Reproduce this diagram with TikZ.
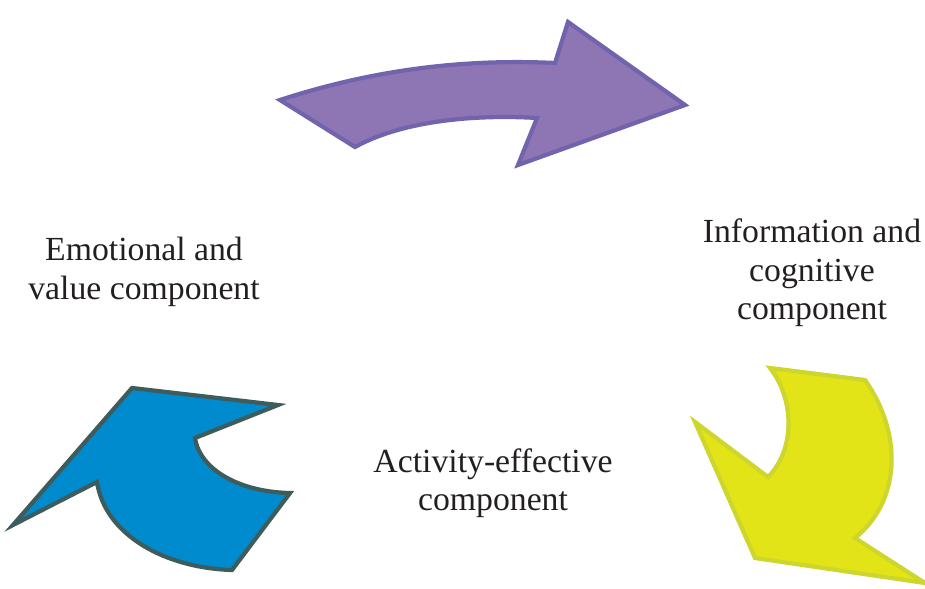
\documentclass[tikz,border=0pt]{standalone}
\usepackage{fontspec}
\setmainfont{Liberation Serif}
\definecolor{arrowpurple}{RGB}{142,118,180}
\definecolor{purpleedge}{RGB}{113,99,172}
\definecolor{arrowyellow}{RGB}{227,228,23}
\definecolor{yellowedge}{RGB}{205,214,45}
\definecolor{arrowblue}{RGB}{0,139,207}
\definecolor{blueedge}{RGB}{62,92,92}
\definecolor{inktext}{RGB}{35,31,32}

\begin{document}
\begin{tikzpicture}[x=0.02cm, y=-0.02cm,
	bigarrow/.style={line width=2.4pt, line join=miter},
	comptext/.style={align=center, text=inktext, inner sep=0pt,
		font=\fontsize{19.2}{21.8}\selectfont}]
			%%%%% START %%%%%
			\useasboundingbox (0, 0) rectangle (925, 588);
			
			% top arrow, pointing right
			\draw[bigarrow, draw=purpleedge, fill=arrowpurple] (280, 100)
				.. controls (360, 74) and (450, 58) .. (555, 63)
				-- (568, 22) -- (685, 105) -- (518, 165) -- (537, 118)
				.. controls (470, 114) and (400, 122) .. (355, 147) -- cycle;
			
			% right arrow, turning down
			\draw[bigarrow, draw=yellowedge, fill=arrowyellow] (770, 368)
				-- (865, 380)
				.. controls (902, 432) and (902, 500) .. (855, 538)
				-- (925, 583) -- (755, 558) -- (695, 422) -- (768, 477)
				.. controls (795, 450) and (795, 400) .. (770, 368) -- cycle;
			
			% left arrow, pointing up
			\draw[bigarrow, draw=blueedge, fill=arrowblue] (132, 388)
				-- (278, 405) -- (195, 438)
				.. controls (200, 470) and (240, 492) .. (290, 493)
				-- (232, 570)
				.. controls (165, 568) and (105, 535) .. (97, 482)
				-- (13, 525) -- cycle;
			
			\node[comptext] (emo) at (144, 272) {Emotional and\\value component};
			\node[comptext] (info) at (812, 273) {Information and\\cognitive\\component};
			\node[comptext] (act) at (493, 483) {Activity-effective\\component};
			%%%%% END %%%%%
		\end{tikzpicture}
\end{document}
